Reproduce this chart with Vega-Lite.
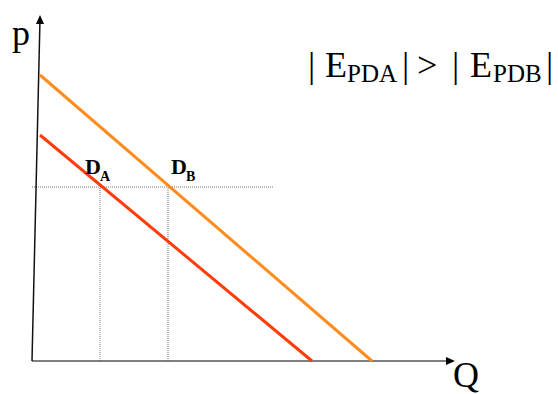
{
  "$schema": "https://vega.github.io/schema/vega-lite/v6.json",
  "width": 558,
  "height": 394,
  "autosize": {"type": "none"},
  "padding": 0,
  "background": "white",
  "config": {"view": {"stroke": null}},
  "datasets": {
    "demand": [
      {"Q": 0.8, "p": 22.6, "curve": "D_A"},
      {"Q": 28.0, "p": 0, "curve": "D_A"},
      {"Q": 0.8, "p": 28.6, "curve": "D_B"},
      {"Q": 34.0, "p": 0, "curve": "D_B"}
    ],
    "guides": [
      {"Q": 0, "p": 17.4, "Q2": 24.1, "p2": 17.4},
      {"Q": 6.8, "p": 0, "Q2": 6.8, "p2": 17.4},
      {"Q": 13.6, "p": 0, "Q2": 13.6, "p2": 17.4}
    ],
    "yaxis": [{"Q": 0, "p": 0, "Q2": 0.8, "p2": 34.2}],
    "xaxis": [{"Q": 0, "p": 0, "Q2": 41.8, "p2": 0}],
    "uparrow": [{"Q": 0.8, "p": 34.6}],
    "rightarrow": [{"Q": 42.3, "p": 0}],
    "axisnames": [
      {"Q": -2.0, "p": 31.6, "label": "p"},
      {"Q": 42.1, "p": -2.6, "label": "Q"}
    ],
    "dlabels": [
      {"Q": 5.3, "p": 18.7, "label": "D"},
      {"Q": 13.9, "p": 18.7, "label": "D"}
    ],
    "dsubs": [
      {"Q": 6.8, "p": 18.0, "label": "A"},
      {"Q": 15.4, "p": 18.0, "label": "B"}
    ],
    "eqbig": [
      {"Q": 27.6, "p": 28.4, "label": "|"},
      {"Q": 29.3, "p": 28.4, "label": "E"},
      {"Q": 37.0, "p": 28.4, "label": "|"},
      {"Q": 38.5, "p": 28.4, "label": ">"},
      {"Q": 42.0, "p": 28.4, "label": "|"},
      {"Q": 43.8, "p": 28.4, "label": "E"},
      {"Q": 51.4, "p": 28.4, "label": "|"}
    ],
    "eqsub": [
      {"Q": 31.5, "p": 27.9, "label": "PDA"},
      {"Q": 46.1, "p": 27.9, "label": "PDB"}
    ]
  },
  "encoding": {
    "x": {"field": "Q", "type": "quantitative", "scale": {"domain": [-3.2, 52.6], "nice": false, "zero": false}, "axis": null},
    "y": {"field": "p", "type": "quantitative", "scale": {"domain": [-3.3, 36.1], "nice": false, "zero": false}, "axis": null}
  },
  "layer": [
    {
      "data": {"name": "guides"},
      "mark": {"type": "rule", "color": "#7a7a7a", "strokeWidth": 1, "strokeDash": [1, 1]},
      "encoding": {"x2": {"field": "Q2"}, "y2": {"field": "p2"}}
    },
    {
      "data": {"name": "xaxis"},
      "mark": {"type": "rule", "color": "#555555", "strokeWidth": 1.5},
      "encoding": {"x2": {"field": "Q2"}, "y2": {"field": "p2"}}
    },
    {
      "data": {"name": "yaxis"},
      "mark": {"type": "rule", "color": "#111111", "strokeWidth": 1.5},
      "encoding": {"x2": {"field": "Q2"}, "y2": {"field": "p2"}}
    },
    {
      "data": {"name": "uparrow"},
      "mark": {"type": "point", "shape": "M0,0L1,2.25L-1,2.25Z", "size": 64, "filled": true, "color": "#000000", "opacity": 1, "strokeWidth": 0}
    },
    {
      "data": {"name": "rightarrow"},
      "mark": {"type": "point", "shape": "M0,0L-2.25,-1L-2.25,1Z", "size": 64, "filled": true, "color": "#000000", "opacity": 1, "strokeWidth": 0}
    },
    {
      "data": {"name": "demand"},
      "mark": {"type": "line", "strokeWidth": 3, "strokeCap": "butt"},
      "encoding": {
        "detail": {"field": "curve"},
        "color": {"field": "curve", "type": "nominal", "scale": {"domain": ["D_A", "D_B"], "range": ["#ff3d0a", "#ff8c1f"]}, "legend": null}
      }
    },
    {
      "data": {"name": "axisnames"},
      "mark": {"type": "text", "font": "Times New Roman, Liberation Serif, Times, serif", "fontSize": 36, "align": "left", "baseline": "alphabetic", "color": "#000000"},
      "encoding": {"text": {"field": "label"}}
    },
    {
      "data": {"name": "dlabels"},
      "mark": {"type": "text", "font": "Times New Roman, Liberation Serif, Times, serif", "fontSize": 22, "fontWeight": "bold", "align": "left", "baseline": "alphabetic", "color": "#000000"},
      "encoding": {"text": {"field": "label"}}
    },
    {
      "data": {"name": "dsubs"},
      "mark": {"type": "text", "font": "Times New Roman, Liberation Serif, Times, serif", "fontSize": 14, "fontWeight": "bold", "align": "left", "baseline": "alphabetic", "color": "#000000"},
      "encoding": {"text": {"field": "label"}}
    },
    {
      "data": {"name": "eqbig"},
      "mark": {"type": "text", "font": "Times New Roman, Liberation Serif, Times, serif", "fontSize": 36, "align": "left", "baseline": "alphabetic", "color": "#000000"},
      "encoding": {"text": {"field": "label"}}
    },
    {
      "data": {"name": "eqsub"},
      "mark": {"type": "text", "font": "Times New Roman, Liberation Serif, Times, serif", "fontSize": 25, "align": "left", "baseline": "alphabetic", "color": "#000000"},
      "encoding": {"text": {"field": "label"}}
    }
  ]
}
